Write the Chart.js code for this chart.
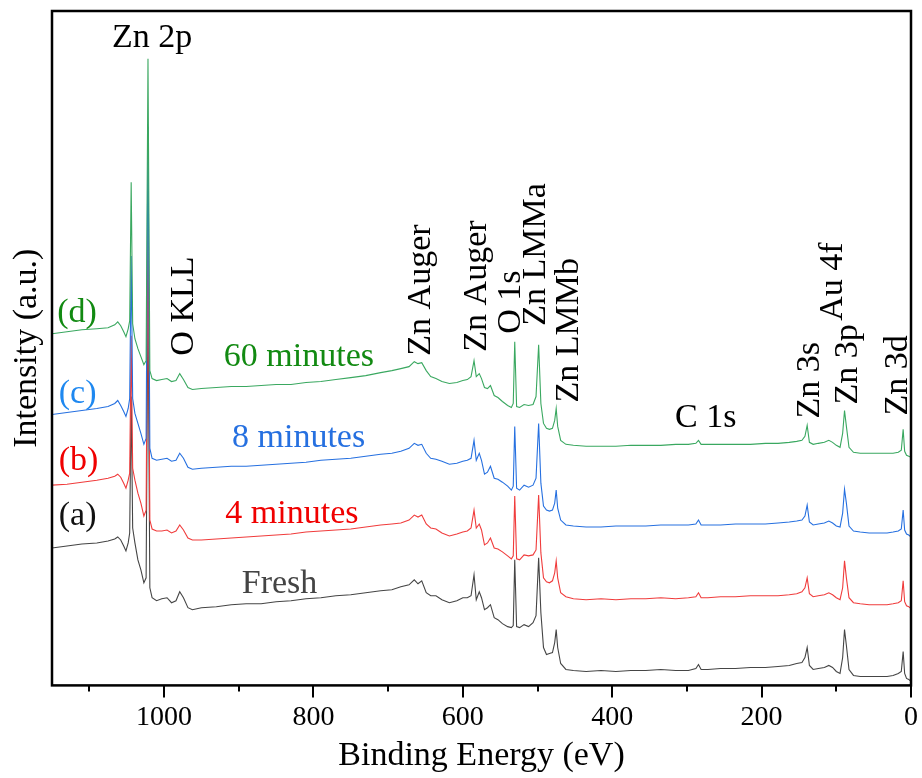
<!DOCTYPE html>
<html>
<head>
<meta charset="utf-8">
<script src="https://cdn.jsdelivr.net/npm/chart.js@4.4.1/dist/chart.umd.min.js"></script>
<style>
  html, body { margin: 0; padding: 0; background: #fff; }
</style>
</head>
<body>
<canvas id="xpsChart" width="922" height="778"></canvas>
<script>
// binding energy grid (eV), shared by all four spectra
var energy = [
  1150, 1130, 1110, 1090, 1075, 1066, 1062, 1058, 1054, 1051,
  1048, 1046, 1044, 1042, 1039, 1035, 1031, 1027, 1024, 1021.5,
  1019, 1016, 1010, 1003, 996, 990, 984, 979, 974, 968,
  962, 950, 930, 910, 890, 870, 850, 830, 810, 790,
  770, 750, 730, 710, 695, 683, 672, 665, 660, 655,
  649, 643, 636, 628, 618, 608, 600, 594, 589, 585,
  582, 578, 575, 571, 567, 563, 558, 553, 547, 540,
  535, 532.5, 530.5, 528, 524, 518, 512, 506, 502, 498.5,
  495.5, 492, 488, 484, 480, 477, 475, 473, 469, 462,
  452, 435, 415, 395, 375, 355, 335, 315, 298, 288,
  284.5, 281, 272, 255, 235, 215, 195, 178, 163, 153,
  146, 142, 139, 136, 131, 124, 116, 110, 105, 100,
  95, 91.5, 89, 86.5, 83, 77, 68, 56, 44, 32,
  24, 17, 13, 10.5, 8.5, 6, 3, 0
];

// intensities (a.u., stacked as in the figure)
var fresh = [
  138, 140, 142, 143, 145, 147, 149, 146, 140, 135,
  143, 153, 290, 158, 143, 126, 116, 103, 108, 391,
  98, 88, 85, 87, 88, 83, 85, 94, 88, 78,
  76, 78, 79, 81, 82, 82, 84, 85, 87, 88,
  90, 91, 93, 95, 96, 99, 101, 106, 102, 105,
  93, 90, 90, 86, 83, 85, 88, 88, 90, 111,
  86, 94, 88, 76, 78, 81, 68, 66, 62, 59,
  58, 60, 126, 59, 58, 61, 59, 63, 70, 128,
  73, 38, 31, 32, 33, 43, 56, 38, 22, 16,
  15, 14, 15, 14, 15, 15, 16, 15, 15, 17,
  21, 16, 16, 17, 17, 18, 18, 19, 20, 22,
  23, 28, 38, 20, 16, 17, 18, 20, 18, 14,
  12, 28, 56, 40, 16, 10, 9, 9, 9, 9,
  10, 12, 14, 34, 12, 7, 6, 4
];

var min4 = [
  201, 202, 204, 206, 208, 210, 212, 209, 203, 198,
  206, 213, 351, 218, 206, 193, 183, 170, 176, 471,
  166, 157, 155, 155, 156, 153, 155, 161, 156, 148,
  146, 146, 147, 148, 149, 150, 151, 152, 154, 155,
  156, 157, 159, 161, 162, 163, 166, 171, 169, 171,
  162, 158, 157, 153, 150, 152, 154, 155, 158, 176,
  158, 162, 156, 141, 143, 148, 138, 137, 134, 130,
  127, 130, 190, 127, 126, 131, 130, 131, 136, 191,
  133, 108, 104, 103, 105, 113, 125, 108, 93, 89,
  87, 86, 87, 86, 87, 87, 88, 87, 88, 89,
  93, 88, 88, 89, 89, 90, 90, 90, 91, 92,
  94, 98, 108, 92, 89, 90, 91, 93, 91, 88,
  86, 98, 125, 108, 88, 83, 82, 81, 81, 81,
  82, 83, 85, 105, 84, 80, 79, 77
];

var min8 = [
  272, 274, 276, 278, 280, 283, 286, 281, 275, 270,
  278, 288, 431, 288, 273, 263, 253, 242, 248, 561,
  238, 228, 226, 227, 228, 225, 226, 233, 228, 219,
  217, 218, 219, 220, 220, 221, 222, 223, 224, 226,
  227, 228, 230, 232, 233, 235, 238, 243, 241, 242,
  233, 228, 227, 225, 222, 223, 225, 226, 228, 246,
  226, 233, 226, 212, 214, 220, 208, 207, 204, 200,
  196, 200, 260, 198, 196, 201, 199, 201, 208, 263,
  203, 180, 176, 175, 176, 183, 196, 178, 166, 161,
  160, 159, 159, 160, 160, 160, 161, 161, 161, 162,
  166, 161, 161, 161, 162, 162, 162, 163, 164, 165,
  166, 170, 181, 164, 161, 162, 163, 165, 163, 160,
  159, 173, 197, 183, 160, 155, 154, 153, 153, 153,
  154, 155, 157, 176, 156, 152, 151, 149
];

var min60 = [
  353, 355, 357, 358, 359, 362, 365, 361, 355, 350,
  358, 366, 505, 363, 348, 338, 330, 322, 326, 629,
  316, 308, 306, 307, 308, 305, 306, 313, 307, 299,
  297, 298, 299, 300, 300, 301, 302, 302, 304, 305,
  307, 309, 311, 314, 316, 318, 320, 325, 323, 324,
  316, 310, 308, 305, 303, 304, 306, 307, 310, 326,
  310, 313, 308, 299, 298, 301, 291, 289, 285, 281,
  279, 283, 345, 280, 279, 282, 281, 282, 290, 342,
  283, 263, 258, 257, 258, 266, 278, 260, 246, 242,
  241, 240, 240, 240, 241, 241, 241, 242, 242, 243,
  246, 242, 242, 242, 242, 242, 243, 243, 244, 245,
  246, 250, 261, 244, 242, 243, 244, 246, 244, 241,
  239, 253, 276, 260, 239, 234, 233, 233, 233, 233,
  233, 234, 236, 257, 235, 231, 230, 229
];

var xTickValues = [0, 200, 400, 600, 800, 1000];
var xMinorValues = [100, 300, 500, 700, 900, 1100];

var seriesNames = ['60 minutes', '8 minutes', '4 minutes', 'Fresh'];
var seriesColors = ['#3aa860', '#2670e0', '#f03c3c', '#454545'];

var serif = "'Liberation Serif', 'Times New Roman', serif";

// peak labels, placed in data coordinates (eV, a.u.)
var labels = [
  { text: 'Zn 2p', e: 1016, v: 641, color: '#000', align: 'center' },
  { text: 'O KLL', e: 961, v: 331, color: '#000', rot: true },
  { text: 'Zn Auger', e: 644, v: 331, color: '#000', rot: true },
  { text: 'Zn Auger', e: 569, v: 335, color: '#000', rot: true },
  { text: 'O 1s', e: 524, v: 353, color: '#000', rot: true },
  { text: 'Zn LMMa', e: 490, v: 361, color: '#000', rot: true },
  { text: 'Zn LMMb', e: 446, v: 284, color: '#000', rot: true },
  { text: 'C 1s', e: 316, v: 259, color: '#000' },
  { text: 'Zn 3s', e: 123, v: 268, color: '#000', rot: true },
  { text: 'Au 4f', e: 92, v: 366, color: '#000', rot: true },
  { text: 'Zn 3p', e: 72, v: 282, color: '#000', rot: true },
  { text: 'Zn 3d', e: 5, v: 271, color: '#000', rot: true },
  { text: '(d)', e: 1143, v: 365, color: '#128a12' },
  { text: '(c)', e: 1141, v: 283, color: '#1e88f0' },
  { text: '(b)', e: 1141, v: 216, color: '#f00000' },
  { text: '(a)', e: 1141, v: 161, color: '#111' },
  { text: '60 minutes', e: 920, v: 321, color: '#128a12' },
  { text: '8 minutes', e: 909, v: 239, color: '#2670e0' },
  { text: '4 minutes', e: 918, v: 163, color: '#f00000' },
  { text: 'Fresh', e: 896, v: 93, color: '#444' }
];

var spectra = [min60, min8, min4, fresh];
var datasets = spectra.map(function (arr, i) {
  return {
    label: seriesNames[i],
    data: energy.map(function (e, j) { return { x: e, y: arr[j] }; }),
    borderColor: seriesColors[i],
    borderWidth: 1.1,
    pointRadius: 0,
    tension: 0,
    fill: false
  };
});

var framePlugin = {
  id: 'frame',
  afterDraw: function (chart) {
    var ctx = chart.ctx, a = chart.chartArea, xs = chart.scales.x, ys = chart.scales.y;
    ctx.save();
    ctx.strokeStyle = '#000';
    ctx.lineWidth = 2.5;
    ctx.strokeRect(a.left, a.top, a.right - a.left, a.bottom - a.top);
    ctx.lineWidth = 2;
    xTickValues.concat(xMinorValues).forEach(function (v) {
      var px = Math.round(xs.getPixelForValue(v));
      var len = v % 200 === 0 ? 12 : 6;
      ctx.beginPath();
      ctx.moveTo(px, a.bottom);
      ctx.lineTo(px, a.bottom + len);
      ctx.stroke();
    });
    ctx.font = '34px ' + serif;
    ctx.textBaseline = 'alphabetic';
    labels.forEach(function (l) {
      var px = xs.getPixelForValue(l.e), py = ys.getPixelForValue(l.v);
      ctx.fillStyle = l.color;
      ctx.save();
      ctx.translate(px, py);
      if (l.rot) {
        ctx.rotate(-Math.PI / 2);
        ctx.textAlign = 'left';
      } else {
        ctx.textAlign = l.align || 'left';
      }
      ctx.fillText(l.text, 0, 0);
      ctx.restore();
    });
    ctx.restore();
  }
};

var ctx = document.getElementById('xpsChart');
var xpsChart = new Chart(ctx, {
  type: 'line',
  data: { datasets: datasets },
  options: {
    responsive: false,
    animation: false,
    layout: { padding: { top: 11, right: 11, bottom: 5, left: 0 } },
    plugins: { legend: { display: false }, tooltip: { enabled: false } },
    scales: {
      x: {
        type: 'linear',
        reverse: true,
        min: 0,
        max: 1150,
        afterBuildTicks: function (axis) {
          axis.ticks = xTickValues.map(function (v) { return { value: v }; });
        },
        grid: { display: false, drawTicks: true, tickLength: 12 },
        border: { display: false },
        ticks: {
          color: '#000',
          padding: 3,
          maxRotation: 0,
          autoSkip: false,
          font: { family: serif, size: 28 },
          callback: function (value) { return String(value); }
        },
        title: {
          display: true,
          text: 'Binding Energy (eV)',
          color: '#000',
          padding: { top: 2, bottom: 0 },
          font: { family: serif, size: 34, lineHeight: 1 }
        }
      },
      y: {
        min: 0,
        max: 677,
        grid: { display: false, drawTicks: false },
        border: { display: false },
        ticks: { display: false },
        title: {
          display: true,
          text: 'Intensity (a.u.)',
          color: '#000',
          padding: { top: 10, bottom: 8 },
          font: { family: serif, size: 34, lineHeight: 1 }
        }
      }
    }
  },
  plugins: [framePlugin]
});
</script>
</body>
</html>
